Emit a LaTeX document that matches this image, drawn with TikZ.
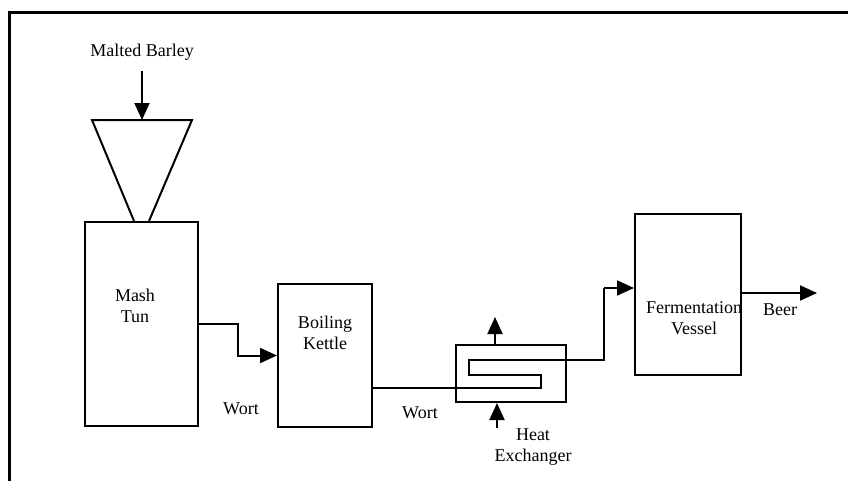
\documentclass[tikz,border=0pt]{standalone}
\usepackage{fontspec}
\setmainfont{Liberation Serif}
\usetikzlibrary{arrows.meta,calc}
\begin{document}
\begin{tikzpicture}[x=1pt,y=-1pt,
  box/.style={draw,line width=2pt,rectangle,inner sep=0pt},
  arr/.style={line width=2pt,-{Triangle[length=17pt,width=15pt]}},
  pipe/.style={line width=2pt},
  lbl/.style={font=\fontsize{18}{21}\selectfont,align=center,inner sep=0pt}]
\useasboundingbox (0,0) rectangle (848,480);
% frame (extends past picture edges)
\draw[line width=3pt] (9,490) -- (9,12) -- (860,12);
% vessels
\node[box,minimum width=113pt,minimum height=204pt] (mash) at (141.5,324) {};
\node[box,minimum width=94pt,minimum height=143pt] (kettle) at (325,355.5) {};
\node[box,minimum width=110pt,minimum height=57pt] (hx) at (511,373.5) {};
\node[box,minimum width=106pt,minimum height=161pt] (ferm) at (688,294.5) {};
% funnel
\draw[pipe,line join=miter] (mash.north -| 134,0) -- (92,120) -- (192,120) -- (mash.north -| 149,0);
% labels
\node[lbl] (barley) at (142,52) {Malted Barley};
\node[lbl] (mashlbl) at (135,306) {Mash\\Tun};
\node[lbl] (kettlelbl) at (325,333) {Boiling\\Kettle};
\node[lbl] (fermlbl) at (694,318) {Fermentation\\Vessel};
\node[lbl] (wort1) at (241,409) {Wort};
\node[lbl] (wort2) at (420,413) {Wort};
\node[lbl] (hxlbl) at (533,447) {Heat\\Exchanger};
\node[lbl] (beer) at (780,310) {Beer};
% coordinates
\coordinate (feed) at (142,71);
\coordinate (hxtop) at (495,317);
\coordinate (hxbot) at (497,428);
\coordinate (beerend) at (817,293);
% connectors
\draw[arr] (feed) -- (142,120);
\draw[arr] (mash.east) -- (238,324) |- (kettle.west);
\draw[pipe,line join=miter] (kettle.east |- 0,388) -- (541,388) -- (541,375) -- (469,375) -- (469,360) -- (604,360) -- (604,288);
\draw[arr] (604,288) -- (ferm.west |- 0,288);
\draw[arr] (hx.north -| hxtop) -- (hxtop);
\draw[arr] (hxbot) -- (hx.south -| hxbot);
\draw[arr] (ferm.east |- beerend) -- (beerend);
\end{tikzpicture}
\end{document}
